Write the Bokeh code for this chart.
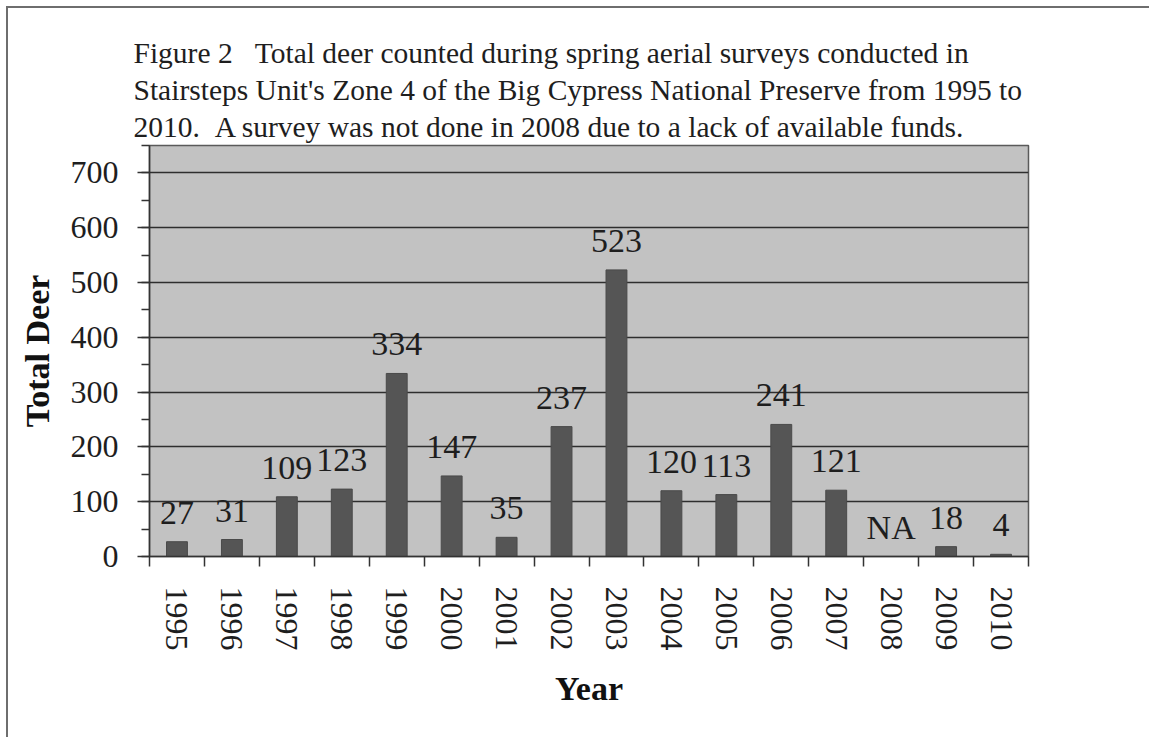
from bokeh.plotting import figure
from bokeh.models import (ColumnDataSource, FixedTicker, SingleIntervalTicker,
                          Range1d, Title)
from bokeh.embed import file_html
from bokeh.resources import INLINE

# Spring aerial survey totals, Stairsteps Unit Zone 4 (no survey in 2008)
years = ["1995", "1996", "1997", "1998", "1999", "2000", "2001", "2002",
         "2003", "2004", "2005", "2006", "2007", "2008", "2009", "2010"]
deer = [27, 31, 109, 123, 334, 147, 35, 237, 523, 120, 113, 241, 121, None, 18, 4]
y_ticks = [0, 100, 200, 300, 400, 500, 600, 700]

NBSP = "\u00a0"
title_lines = [
    "Figure 2" + NBSP * 3 + "Total deer counted during spring aerial surveys conducted in",
    "Stairsteps Unit's Zone 4 of the Big Cypress National Preserve from 1995 to",
    "2010." + NBSP * 2 + "A survey was not done in 2008 due to a lack of available funds.",
]

FONT = "Liberation Serif"
INK = "#1e1e1e"

centers = [i + 0.5 for i in range(len(years))]
bounds = list(range(len(years) + 1))

bars = ColumnDataSource(dict(
    x=[c for c, v in zip(centers, deer) if v is not None],
    top=[v for v in deer if v is not None],
))
labels = ColumnDataSource(dict(
    x=centers,
    y=[v if v is not None else 0 for v in deer],
    text=[str(v) if v is not None else "NA" for v in deer],
))

p = figure(width=1143, height=731, output_backend="svg", toolbar_location=None,
           x_range=Range1d(0, len(years)), y_range=Range1d(0, 750),
           min_border_left=141, min_border_right=123,
           min_border_top=137, min_border_bottom=183,
           background_fill_color="#c2c2c2", border_fill_color="white",
           outline_line_color="#5a5a5a", outline_line_width=1.5)
# page frame: thin rule along the top and left edges only
p.styles = {"margin-left": "8px", "margin-top": "8px",
            "box-shadow": "-2px -2px 0 0 #6e6e6e"}

p.vbar(x="x", top="top", width=0.38, source=bars,
       fill_color="#555555", line_color="#4a4a4a", line_width=1)
p.text(x="x", y="y", text="text", source=labels, y_offset=-29,
       text_align="center", text_baseline="alphabetic",
       text_font=FONT, text_font_size="34px", text_color=INK)

# y axis: majors every 100 with one minor between
p.yaxis.ticker = SingleIntervalTicker(interval=100, num_minor_ticks=2)
p.yaxis.major_tick_out = 12
p.yaxis.major_tick_in = 0
p.yaxis.minor_tick_out = 8
p.yaxis.minor_tick_in = 0
p.yaxis.major_label_standoff = 19
p.yaxis.axis_label = "Total Deer"
p.yaxis.axis_label_standoff = 12

# x axis: tick marks at category boundaries, labels at bar centres
p.xaxis.ticker = FixedTicker(ticks=centers, minor_ticks=bounds)
p.xaxis.major_label_overrides = {c: y for c, y in zip(centers, years)}
p.xaxis.major_label_orientation = "vertical"
p.xaxis.major_tick_out = 0
p.xaxis.major_tick_in = 0
p.xaxis.minor_tick_out = 10
p.xaxis.minor_tick_in = 0
p.xaxis.major_label_standoff = 20
p.xaxis.axis_label = "Year"
p.xaxis.axis_label_standoff = 16

for ax in (p.xaxis, p.yaxis):
    ax.axis_line_color = "#333333"
    ax.axis_line_width = 1.5
    ax.major_tick_line_color = "#333333"
    ax.minor_tick_line_color = "#333333"
    ax.major_tick_line_width = 1.5
    ax.minor_tick_line_width = 1.5
    ax.major_label_text_font = FONT
    ax.major_label_text_font_size = "32px"
    ax.major_label_text_color = INK
    ax.axis_label_text_font = FONT
    ax.axis_label_text_font_size = "34px"
    ax.axis_label_text_font_style = "bold"
    ax.axis_label_text_color = "#111111"

p.xgrid.grid_line_color = None
p.ygrid.grid_line_color = "#2e2e2e"
p.ygrid.grid_line_width = 1.4

p.add_layout(Title(text="\n".join(title_lines), align="left", offset=-16,
                   text_font=FONT, text_font_size="29.5px",
                   text_font_style="normal", text_color=INK,
                   text_line_height=1.16, standoff=4), "above")

open("out.html", "w").write(file_html(p, INLINE))
